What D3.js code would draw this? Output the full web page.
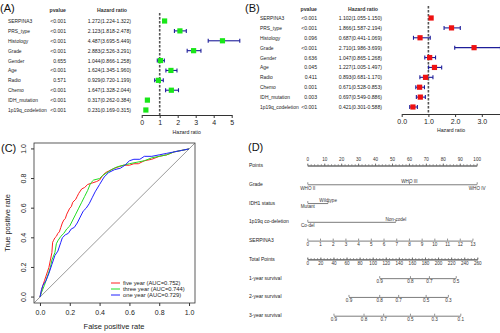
<!DOCTYPE html>
<html>
<head>
<meta charset="utf-8">
<script src="https://cdn.jsdelivr.net/npm/d3@7"></script>
<style>
  body { margin: 0; background: #fff; }
  svg { display: block; font-family: "Liberation Sans", Arial, sans-serif; }
</style>
</head>
<body>
<script>
// forest plot rows (shared by A and B)
const vars = ["SERPINA3", "PRS_type", "Histology", "Grade", "Gender", "Age", "Radio", "Chemo", "IDH_mutation", "1p19q_codeletion"];

// univariate cox (A)
const uniP   = ["<0.001", "<0.001", "<0.001", "<0.001", "0.655", "<0.001", "0.571", "<0.001", "<0.001", "<0.001"];
const uniHR  = [1.272, 2.123, 4.487, 2.883, 1.044, 1.624, 0.929, 1.647, 0.317, 0.231];
const uniLo  = [1.224, 1.818, 3.695, 2.526, 0.866, 1.345, 0.720, 1.328, 0.262, 0.169];
const uniHi  = [1.322, 2.478, 5.449, 3.291, 1.258, 1.960, 1.199, 2.044, 0.384, 0.315];

// multivariate cox (B)
const multiP  = ["<0.001", "<0.001", "0.096", "<0.001", "0.636", "0.045", "0.411", "0.001", "0.003", "<0.001"];
const multiHR = [1.102, 1.866, 0.687, 2.710, 1.047, 1.227, 0.893, 0.671, 0.697, 0.421];
const multiLo = [1.055, 1.587, 0.441, 1.986, 0.865, 1.005, 0.681, 0.528, 0.549, 0.301];
const multiHi = [1.150, 2.194, 1.069, 3.699, 1.268, 1.497, 1.170, 0.853, 0.886, 0.588];

// ROC curves (C): [fpr, tpr]
const rocFive = [[0,0],[0.01,0.04],[0.02,0.08],[0.03,0.11],[0.05,0.17],[0.06,0.2],[0.07,0.25],[0.08,0.3],[0.085,0.37],[0.09,0.38],[0.1,0.4],[0.11,0.41],[0.12,0.43],[0.13,0.44],[0.14,0.47],[0.15,0.5],[0.16,0.52],[0.17,0.53],[0.18,0.56],[0.2,0.6],[0.21,0.61],[0.22,0.64],[0.24,0.66],[0.25,0.68],[0.26,0.7],[0.28,0.73],[0.3,0.74],[0.32,0.76],[0.35,0.77],[0.38,0.78],[0.4,0.79],[0.42,0.82],[0.44,0.84],[0.46,0.85],[0.5,0.87],[0.53,0.88],[0.56,0.89],[0.6,0.89],[0.63,0.9],[0.66,0.9],[0.7,0.92],[0.75,0.93],[0.8,0.95],[0.85,0.96],[0.9,0.98],[0.95,0.99],[1,1]];
const rocThree = [[0,0],[0.01,0.03],[0.03,0.08],[0.05,0.14],[0.07,0.2],[0.08,0.25],[0.1,0.3],[0.11,0.36],[0.12,0.38],[0.14,0.41],[0.16,0.43],[0.18,0.46],[0.2,0.48],[0.22,0.52],[0.24,0.56],[0.26,0.6],[0.28,0.64],[0.3,0.68],[0.32,0.72],[0.34,0.77],[0.36,0.79],[0.4,0.8],[0.42,0.82],[0.45,0.84],[0.48,0.86],[0.52,0.88],[0.56,0.89],[0.6,0.9],[0.65,0.91],[0.7,0.92],[0.75,0.94],[0.8,0.95],[0.85,0.96],[0.9,0.98],[0.95,0.99],[1,1]];
const rocOne = [[0,0],[0.01,0.05],[0.02,0.08],[0.04,0.11],[0.06,0.16],[0.08,0.22],[0.1,0.28],[0.12,0.31],[0.14,0.37],[0.15,0.4],[0.17,0.42],[0.19,0.43],[0.21,0.46],[0.23,0.47],[0.25,0.5],[0.27,0.54],[0.29,0.58],[0.31,0.6],[0.33,0.63],[0.35,0.67],[0.37,0.71],[0.4,0.76],[0.43,0.81],[0.46,0.84],[0.5,0.86],[0.54,0.87],[0.57,0.89],[0.6,0.92],[0.63,0.93],[0.67,0.93],[0.7,0.95],[0.75,0.95],[0.8,0.96],[0.85,0.97],[0.9,0.98],[0.95,0.99],[1,1]];
const rocNames = ["five year (AUC=0.752)", "three year (AUC=0.744)", "one year (AUC=0.729)"];

// nomogram (D)
const nomoRows = ["Points", "Grade", "IDH1 status", "1p19q co-deletion", "SERPINA3", "Total Points", "1-year survival", "2-year survival", "3-year survival"];
const gradeLevels = ["WHO II", "WHO III", "WHO IV"];
const gradePts = [0, 60, 100];
const idhLevels = ["Mutant", "Wildtype"];
const idhPts = [0, 12];
const codelLevels = ["Co-del", "Non-codel"];
const codelPts = [0, 52];
const serpinaTicks = d3.range(0, 14);
const serpinaPtsPerUnit = 7.5;
const totalTicks = d3.range(0, 261, 20);
const surv1Prob = [0.9, 0.8, 0.7, 0.5];
const surv1Tot  = [110, 157, 186, 227];
const surv2Prob = [0.9, 0.8, 0.7, 0.5, 0.3];
const surv2Tot  = [63, 110, 139, 181, 215];
const surv3Prob = [0.9, 0.8, 0.7, 0.5, 0.3, 0.1];
const surv3Tot  = [40, 86, 116, 157, 194, 234];

const W = 500, H = 333;
const svg = d3.select("body").append("svg").attr("width", W).attr("height", H);

function panelLabel(txt, x, y) {
  svg.append("text").attr("x", x).attr("y", y).attr("font-size", "11px").attr("fill", "#111").text(txt);
}

// ---------- forest plots ----------
function forest(o) {
  const g = svg.append("g");
  const y = d3.scalePoint().domain(vars).range([o.top, o.bottom]);
  const x = d3.scaleLinear().domain(o.domain).range(o.range);

  g.append("text").attr("x", o.pX).attr("y", o.headY).attr("text-anchor", "end").attr("font-size", "5.2px").attr("font-weight", "bold").attr("fill", "#333").text("pvalue");
  g.append("text").attr("x", o.hrX - 4).attr("y", o.headY).attr("text-anchor", "end").attr("font-size", "5.2px").attr("font-weight", "bold").attr("fill", "#333").text("Hazard ratio");

  vars.forEach((v, i) => {
    const yy = y(v) + 2;
    g.append("text").attr("x", o.labX).attr("y", yy).attr("font-size", "4.9px").attr("fill", "#222").text(v);
    g.append("text").attr("x", o.pX).attr("y", yy).attr("text-anchor", "end").attr("font-size", "5.1px").attr("fill", "#222").text(o.p[i]);
    g.append("text").attr("x", o.hrX).attr("y", yy).attr("text-anchor", "end").attr("font-size", "5.1px").attr("fill", "#222")
      .text(o.hr[i].toFixed(3) + "(" + o.lo[i].toFixed(3) + "-" + o.hi[i].toFixed(3) + ")");
  });

  // reference line at HR = 1
  g.append("line").attr("x1", x(1)).attr("x2", x(1)).attr("y1", o.refTop).attr("y2", o.axisY)
    .attr("stroke", "#555").attr("stroke-width", 1.6).attr("stroke-dasharray", "2.5,1.5");

  // whiskers
  const rows = vars.map((v, i) => ({ v, hr: o.hr[i], lo: o.lo[i], hi: o.hi[i] }));
  g.selectAll(".ci").data(rows).enter().append("line")
    .attr("x1", d => x(d.lo)).attr("x2", d => x(d.hi))
    .attr("y1", d => y(d.v)).attr("y2", d => y(d.v))
    .attr("stroke", "#1e1e9a").attr("stroke-width", 1.1);
  ["lo", "hi"].forEach(k => {
    g.selectAll(".cap" + k).data(rows).enter().append("line")
      .attr("x1", d => x(d[k])).attr("x2", d => x(d[k]))
      .attr("y1", d => y(d.v) - 2).attr("y2", d => y(d.v) + 2)
      .attr("stroke", "#1e1e9a").attr("stroke-width", 1.1);
  });
  g.selectAll(".box").data(rows).enter().append("rect")
    .attr("x", d => x(d.hr) - 2.6).attr("y", d => y(d.v) - 2.6)
    .attr("width", 5.2).attr("height", 5.2).attr("fill", o.color);

  const ax = g.append("g").attr("transform", `translate(0,${o.axisY})`)
    .call(d3.axisBottom(x).tickValues(o.ticks).tickFormat(o.fmt).tickSize(3).tickSizeOuter(0));
  ax.select(".domain").attr("stroke", "#333");
  ax.selectAll(".tick line").attr("stroke", "#333");
  ax.selectAll("text").attr("font-size", "7px").attr("fill", "#222").attr("dy", "0.6em");

  g.append("text").attr("x", (x.range()[0] + x.range()[1]) / 2).attr("y", o.titleY).attr("text-anchor", "middle")
    .attr("font-size", "5.2px").attr("fill", "#222").text("Hazard ratio");
}

panelLabel("(A)", 0, 12);
forest({
  p: uniP, hr: uniHR, lo: uniLo, hi: uniHi, color: "#19e619",
  top: 21, bottom: 110, labX: 8, pX: 66, hrX: 131, headY: 11.5,
  domain: [0, 5], range: [141.7, 231.7], ticks: [0, 1, 2, 3, 4, 5], fmt: d3.format("d"),
  refTop: 13, axisY: 115, titleY: 134
});

panelLabel("(B)", 245, 12);
forest({
  p: multiP, hr: multiHR, lo: multiLo, hi: multiHi, color: "#ee1111",
  top: 18, bottom: 107, labX: 260, pX: 317, hrX: 382, headY: 11,
  domain: [0, 3.7], range: [401.7, 500.5], ticks: [0, 1, 2, 3], fmt: d3.format(".1f"),
  refTop: 6, axisY: 114, titleY: 132
});

// ---------- ROC (C) ----------
panelLabel("(C)", 1, 152);
{
  const g = svg.append("g");
  const x = d3.scaleLinear().domain([-0.04, 1.04]).range([34, 195]);
  const y = d3.scaleLinear().domain([-0.04, 1.04]).range([303, 143]);
  g.append("rect").attr("x", 34).attr("y", 143).attr("width", 161).attr("height", 160)
    .attr("fill", "none").attr("stroke", "#333").attr("stroke-width", 0.8);

  const ticks = [0, 0.2, 0.4, 0.6, 0.8, 1];
  const xa = g.append("g").attr("transform", "translate(0,303)")
    .call(d3.axisBottom(x).tickValues(ticks).tickFormat(d3.format(".1f")).tickSize(3).tickSizeOuter(0));
  xa.select(".domain").remove();
  xa.selectAll("line").attr("stroke", "#333");
  xa.selectAll("text").attr("font-size", "7px").attr("fill", "#222").attr("dy", "0.85em");

  const ya = g.append("g").attr("transform", "translate(34,0)")
    .call(d3.axisLeft(y).tickValues(ticks).tickFormat(d3.format(".1f")).tickSize(3).tickSizeOuter(0));
  ya.select(".domain").remove();
  ya.selectAll("line").attr("stroke", "#333");
  ya.selectAll("text").attr("font-size", "7px").attr("fill", "#222")
    .attr("text-anchor", "middle").attr("dy", null)
    .attr("transform", d => `translate(-8,${y(d)}) rotate(-90)`).attr("x", 0).attr("y", 0);
  ya.selectAll(".tick").attr("transform", null);
  ya.selectAll(".tick line").attr("transform", d => `translate(0,${y(d)})`);

  g.append("text").attr("x", 114).attr("y", 329).attr("text-anchor", "middle").attr("font-size", "7.5px").attr("fill", "#222").text("False positive rate");
  g.append("text").attr("transform", "translate(10,223) rotate(-90)").attr("text-anchor", "middle").attr("font-size", "7.5px").attr("fill", "#222").text("True positive rate");

  // chance line
  g.append("line").attr("x1", x(-0.04)).attr("y1", y(-0.04)).attr("x2", x(1.04)).attr("y2", y(1.04))
    .attr("stroke", "#555").attr("stroke-width", 0.6);

  const line = d3.line().x(d => x(d[0])).y(d => y(d[1]));
  const curves = [rocFive, rocThree, rocOne];
  const cols = ["#ff2020", "#22dd22", "#2222ff"];
  curves.forEach((c, i) => {
    g.append("path").attr("d", line(c)).attr("fill", "none").attr("stroke", cols[i]).attr("stroke-width", 1);
  });

  rocNames.forEach((n, i) => {
    const ly = 283 + i * 6;
    g.append("line").attr("x1", 111).attr("x2", 120).attr("y1", ly).attr("y2", ly).attr("stroke", cols[i]).attr("stroke-width", 1);
    g.append("text").attr("x", 123).attr("y", ly + 2).attr("font-size", "5.8px").attr("fill", "#222").text(n);
  });
}

// ---------- nomogram (D) ----------
panelLabel("(D)", 248, 151);
{
  const g = svg.append("g");
  const xPts = d3.scaleLinear().domain([0, 100]).range([307.3, 476.7]);
  const xTot = d3.scaleLinear().domain([0, 260]).range([307.3, 477.3]);
  const rowY = d3.scalePoint().domain(nomoRows).range([165.5, 315.7]);
  const fs = "4.6px";

  nomoRows.forEach(r => {
    g.append("text").attr("x", 249).attr("y", rowY(r) + 1.5).attr("font-size", "5px").attr("fill", "#222").text(r);
  });

  function styleAx(ax) {
    ax.select(".domain").attr("stroke", "#444").attr("stroke-width", 0.7);
    ax.selectAll(".tick line").attr("stroke", "#444").attr("stroke-width", 0.6);
    ax.selectAll("text").attr("font-size", fs).attr("fill", "#333");
  }

  // Points axis with minor ticks
  const yP = rowY("Points");
  const minor = g.append("g").attr("transform", `translate(0,${yP})`)
    .call(d3.axisTop(xPts).tickValues(d3.range(0, 101, 2)).tickFormat("").tickSize(1.2).tickSizeOuter(0));
  styleAx(minor);
  const major = g.append("g").attr("transform", `translate(0,${yP})`)
    .call(d3.axisTop(xPts).tickValues(d3.range(0, 101, 10)).tickSize(2).tickPadding(2.5).tickSizeOuter(0));
  styleAx(major);

  // categorical rows: labels alternate below / above the line
  function catAxis(row, levels, pts) {
    const yy = rowY(row);
    const s = d3.scaleLinear().domain([d3.min(pts), d3.max(pts)]).range([xPts(d3.min(pts)), xPts(d3.max(pts))]);
    const ax = g.append("g").attr("transform", `translate(0,${yy})`)
      .call(d3.axisBottom(s).tickValues(pts).tickFormat((d, i) => levels[i]).tickSize(-2).tickSizeOuter(0).tickPadding(2));
    styleAx(ax);
    ax.selectAll(".tick text").attr("y", (d, i) => i % 2 === 0 ? 2 : -4.5);
  }
  catAxis("Grade", gradeLevels, gradePts);
  catAxis("IDH1 status", idhLevels, idhPts);
  catAxis("1p19q co-deletion", codelLevels, codelPts);

  // SERPINA3 expression
  {
    const s = d3.scaleLinear().domain([0, 13]).range([xPts(0), xPts(13 * serpinaPtsPerUnit)]);
    const ax = g.append("g").attr("transform", `translate(0,${rowY("SERPINA3")})`)
      .call(d3.axisBottom(s).tickValues(serpinaTicks).tickSize(-2).tickPadding(2).tickSizeOuter(0));
    styleAx(ax);
  }

  // Total points
  {
    const yT = rowY("Total Points");
    const mn = g.append("g").attr("transform", `translate(0,${yT})`)
      .call(d3.axisBottom(xTot).tickValues(d3.range(0, 261, 5)).tickFormat("").tickSize(-1.2).tickSizeOuter(0));
    styleAx(mn);
    const mj = g.append("g").attr("transform", `translate(0,${yT})`)
      .call(d3.axisBottom(xTot).tickValues(totalTicks).tickSize(-2).tickPadding(2).tickSizeOuter(0));
    styleAx(mj);
  }

  // survival probability rows
  function survAxis(row, probs, tots) {
    const s = d3.scaleLinear().domain([d3.min(tots), d3.max(tots)]).range([xTot(d3.min(tots)), xTot(d3.max(tots))]);
    const ax = g.append("g").attr("transform", `translate(0,${rowY(row)})`)
      .call(d3.axisBottom(s).tickValues(tots).tickFormat((d, i) => probs[i].toFixed(1)).tickSize(-2).tickPadding(2).tickSizeOuter(0));
    styleAx(ax);
  }
  survAxis("1-year survival", surv1Prob, surv1Tot);
  survAxis("2-year survival", surv2Prob, surv2Tot);
  survAxis("3-year survival", surv3Prob, surv3Tot);
}
</script>
</body>
</html>
